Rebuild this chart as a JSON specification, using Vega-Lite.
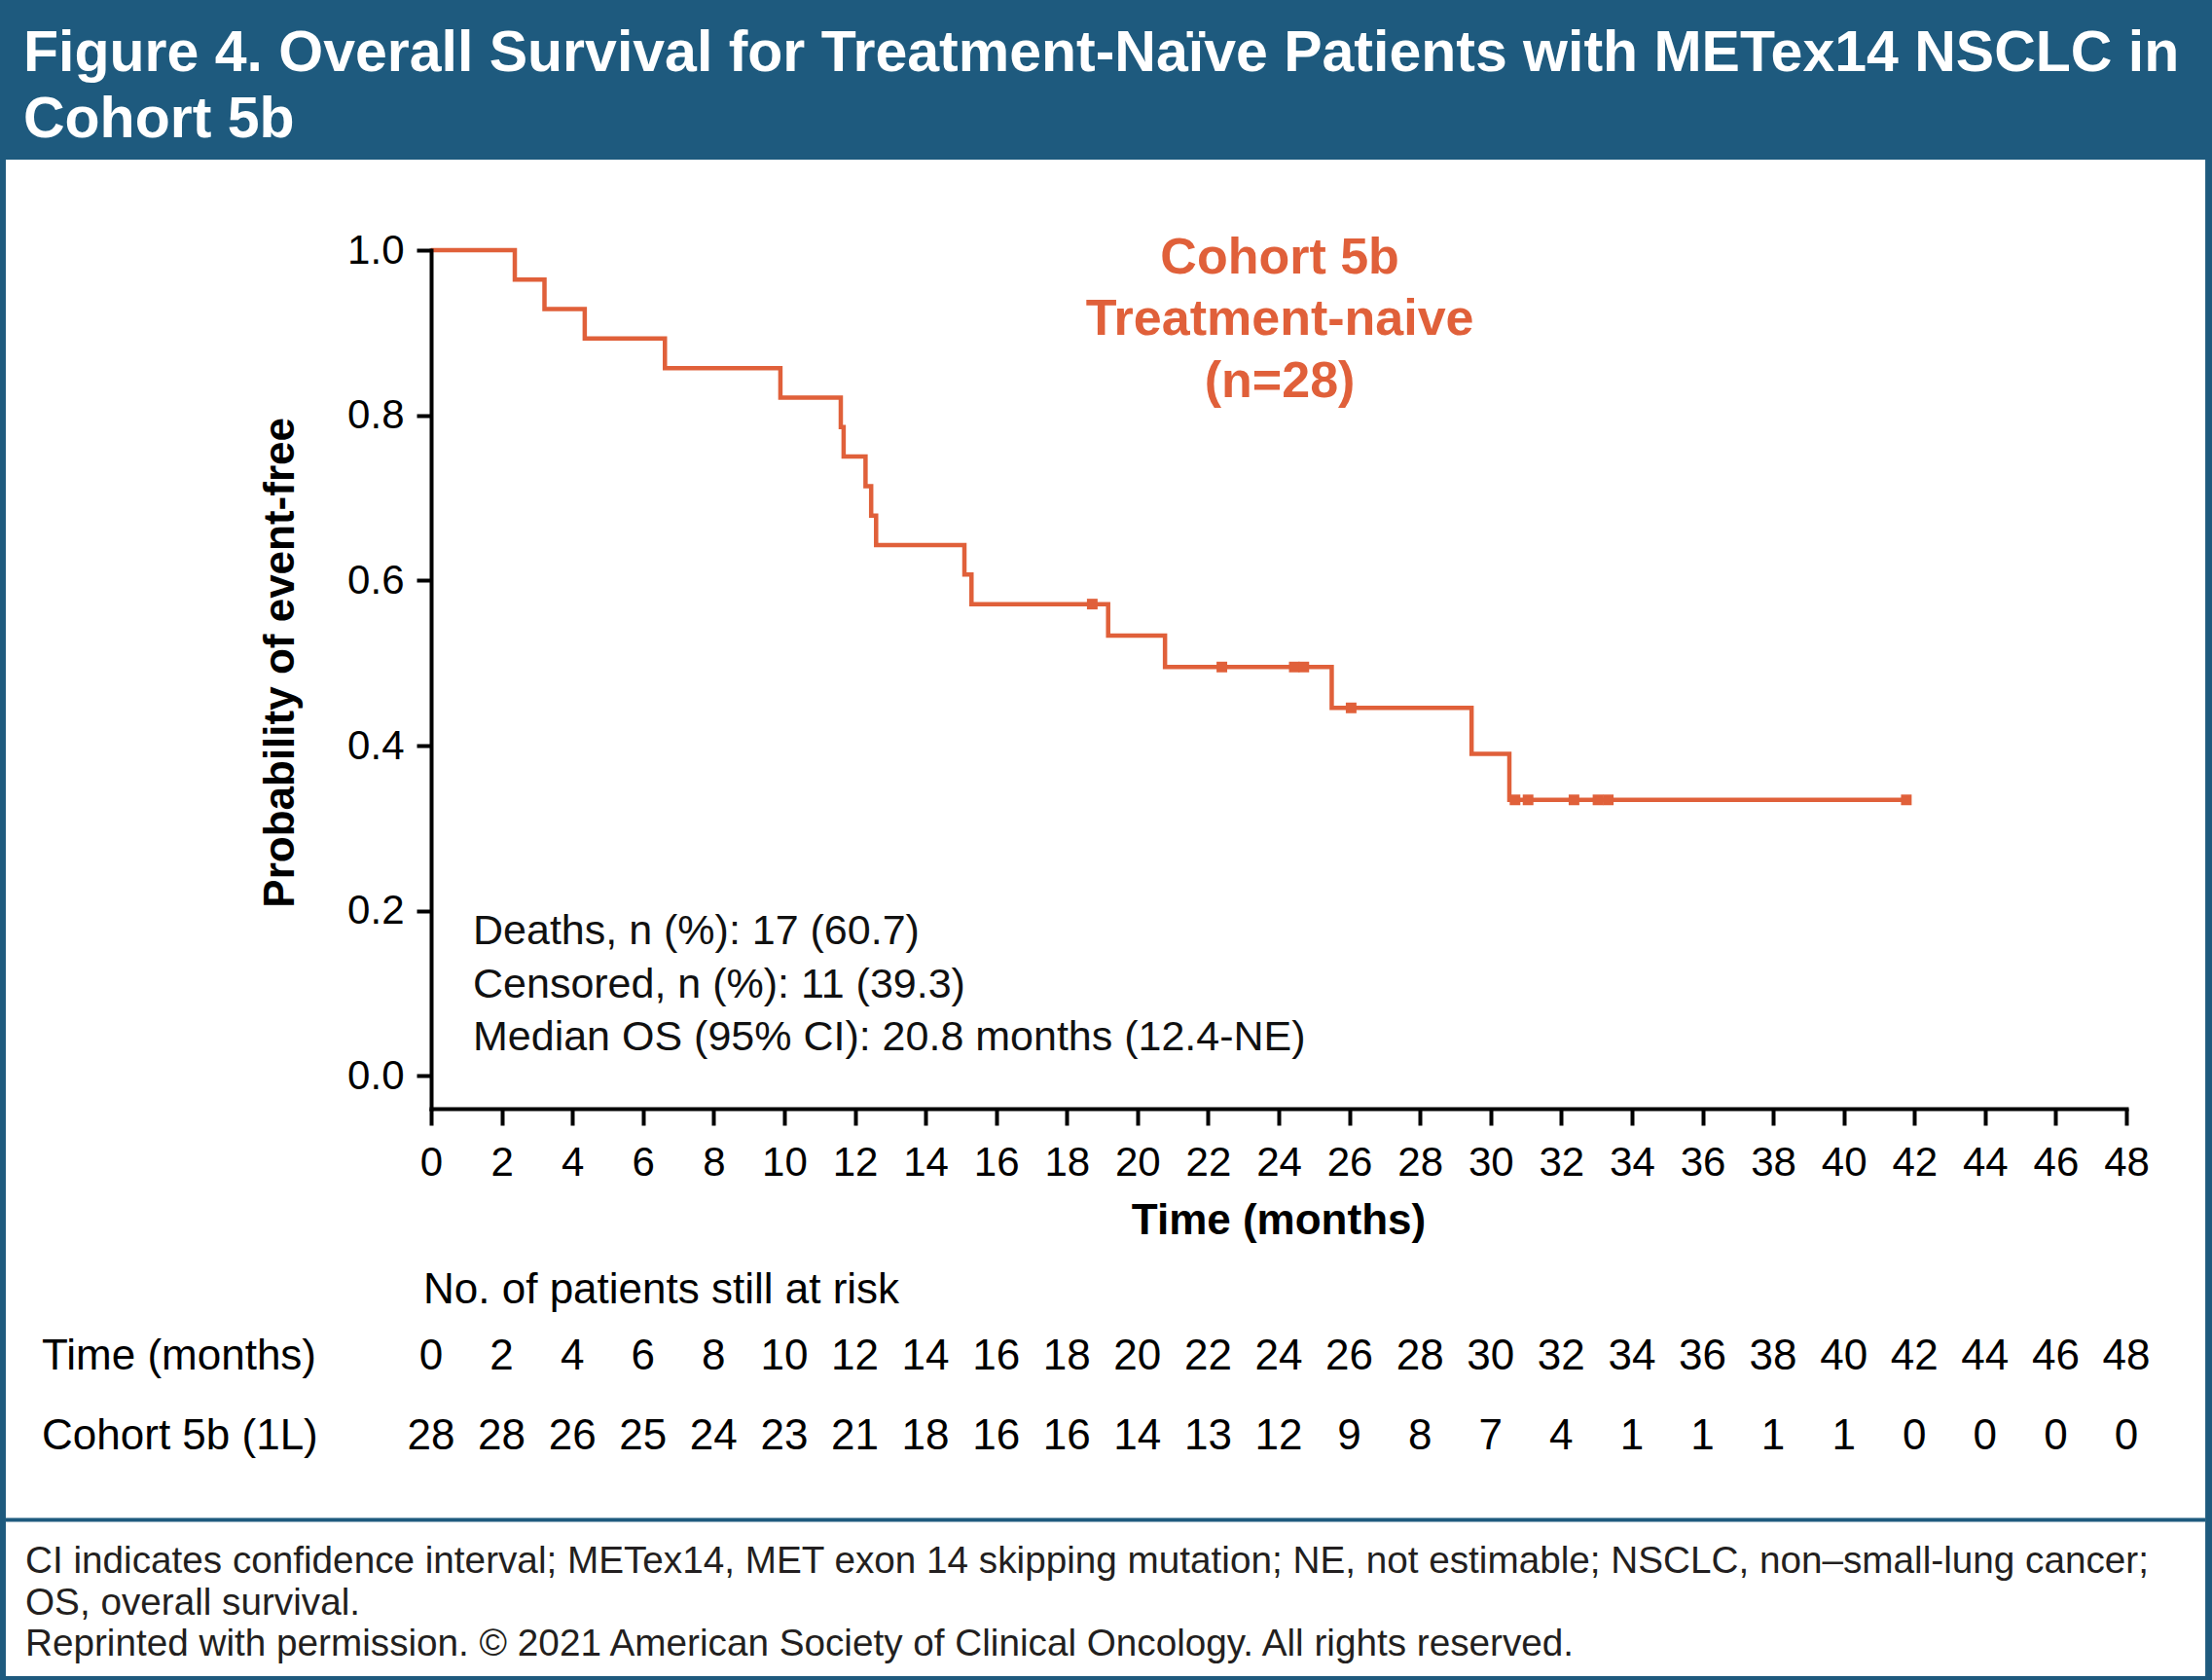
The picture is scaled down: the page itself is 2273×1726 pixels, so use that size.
{
  "$schema": "https://vega.github.io/schema/vega-lite/v6.json",
  "width": 1742,
  "height": 882,
  "autosize": {"type": "none"},
  "padding": {"left": 443, "top": 257, "right": 88, "bottom": 587},
  "background": "#1E5A7E",
  "view": {"stroke": null},
  "resolve": {"axis": {"x": "independent", "y": "independent"}},
  "title": {
    "text": ["Figure 4. Overall Survival for Treatment-Naïve Patients with METex14 NSCLC in", "Cohort 5b"],
    "anchor": "start",
    "frame": "bounds",
    "orient": "top",
    "dx": 20,
    "offset": 11,
    "font": "Liberation Sans",
    "fontSize": 59,
    "fontWeight": "bold",
    "color": "white",
    "lineHeight": 68
  },
  "datasets": {
    "km": [
      {"t": 0, "s": 1.0, "type": "start"},
      {"t": 2.37, "s": 0.9643, "type": "death"},
      {"t": 3.21, "s": 0.9286, "type": "death"},
      {"t": 4.35, "s": 0.8929, "type": "death"},
      {"t": 6.62, "s": 0.8571, "type": "death"},
      {"t": 9.89, "s": 0.8214, "type": "death"},
      {"t": 11.6, "s": 0.7857, "type": "death"},
      {"t": 11.68, "s": 0.75, "type": "death"},
      {"t": 12.3, "s": 0.7143, "type": "death"},
      {"t": 12.46, "s": 0.6786, "type": "death"},
      {"t": 12.6, "s": 0.6429, "type": "death"},
      {"t": 15.1, "s": 0.6071, "type": "death"},
      {"t": 15.3, "s": 0.5714, "type": "death"},
      {"t": 18.72, "s": 0.5714, "type": "censor"},
      {"t": 19.17, "s": 0.5333, "type": "death"},
      {"t": 20.78, "s": 0.4952, "type": "death"},
      {"t": 22.39, "s": 0.4952, "type": "censor"},
      {"t": 24.44, "s": 0.4952, "type": "censor"},
      {"t": 24.71, "s": 0.4952, "type": "censor"},
      {"t": 25.5, "s": 0.4457, "type": "death"},
      {"t": 26.05, "s": 0.4457, "type": "censor"},
      {"t": 29.46, "s": 0.39, "type": "death"},
      {"t": 30.53, "s": 0.3343, "type": "death"},
      {"t": 30.69, "s": 0.3343, "type": "censor"},
      {"t": 31.06, "s": 0.3343, "type": "censor"},
      {"t": 32.36, "s": 0.3343, "type": "censor"},
      {"t": 33.04, "s": 0.3343, "type": "censor"},
      {"t": 33.33, "s": 0.3343, "type": "censor"},
      {"t": 41.77, "s": 0.3343, "type": "censor"}
    ],
    "risk": [
      {"t": 0, "n": 28}, {"t": 2, "n": 28}, {"t": 4, "n": 26}, {"t": 6, "n": 25},
      {"t": 8, "n": 24}, {"t": 10, "n": 23}, {"t": 12, "n": 21}, {"t": 14, "n": 18},
      {"t": 16, "n": 16}, {"t": 18, "n": 16}, {"t": 20, "n": 14}, {"t": 22, "n": 13},
      {"t": 24, "n": 12}, {"t": 26, "n": 9}, {"t": 28, "n": 8}, {"t": 30, "n": 7},
      {"t": 32, "n": 4}, {"t": 34, "n": 1}, {"t": 36, "n": 1}, {"t": 38, "n": 1},
      {"t": 40, "n": 1}, {"t": 42, "n": 0}, {"t": 44, "n": 0}, {"t": 46, "n": 0},
      {"t": 48, "n": 0}
    ],
    "one": [{}]
  },
  "layer": [
    {
      "data": {"name": "one"},
      "mark": {"type": "rect", "color": "white"},
      "encoding": {
        "x": {"datum": -12.042, "type": "quantitative", "scale": {"domain": [0, 48], "nice": false, "zero": false}, "axis": null},
        "x2": {"datum": 50.234},
        "y": {"datum": 1.1096, "type": "quantitative", "scale": {"domain": [-0.0396, 1.0], "nice": false, "zero": false}, "axis": null},
        "y2": {"datum": -0.7268}
      }
    },
    {
      "data": {"name": "km"},
      "mark": {"type": "line", "interpolate": "step-after", "color": "#E0603A", "strokeWidth": 4.5},
      "encoding": {
        "x": {
          "field": "t", "type": "quantitative",
          "scale": {"domain": [0, 48], "nice": false, "zero": false},
          "axis": {
            "orient": "bottom", "zindex": 1,
            "values": [0, 2, 4, 6, 8, 10, 12, 14, 16, 18, 20, 22, 24, 26, 28, 30, 32, 34, 36, 38, 40, 42, 44, 46, 48],
            "format": "d", "domain": true, "domainColor": "black", "domainWidth": 4, "domainCap": "square", "grid": false,
            "tickSize": 17, "tickWidth": 4, "tickColor": "black",
            "labelFont": "Liberation Sans", "labelFontSize": 42, "labelColor": "black",
            "labelPadding": 18, "labelFlush": false, "labelOverlap": false,
            "title": null
          }
        },
        "y": {
          "field": "s", "type": "quantitative",
          "scale": {"domain": [-0.0396, 1.0], "nice": false, "zero": false},
          "axis": {
            "orient": "left", "zindex": 1,
            "values": [0, 0.2, 0.4, 0.6, 0.8, 1.0],
            "format": ".1f", "domain": true, "domainColor": "black", "domainWidth": 4, "domainCap": "square", "grid": false,
            "tickSize": 15, "tickWidth": 4, "tickColor": "black",
            "labelFont": "Liberation Sans", "labelFontSize": 42, "labelColor": "black",
            "labelPadding": 13, "labelOverlap": false, "labelFlush": false,
            "title": null
          }
        }
      }
    },
    {
      "data": {"name": "km"},
      "transform": [{"filter": "datum.type === 'censor'"}],
      "mark": {"type": "square", "filled": true, "color": "#E0603A", "size": 120, "opacity": 1},
      "encoding": {
        "x": {"field": "t", "type": "quantitative", "scale": {"domain": [0, 48], "nice": false, "zero": false}, "axis": null},
        "y": {"field": "s", "type": "quantitative", "scale": {"domain": [-0.0396, 1.0], "nice": false, "zero": false}, "axis": null}
      }
    },
    {
      "data": {"name": "one"},
      "mark": {"type": "rule", "color": "#1E5A7E", "strokeWidth": 4},
      "encoding": {
        "x": {"datum": -12.042, "type": "quantitative", "scale": {"domain": [0, 48], "nice": false, "zero": false}, "axis": null},
        "x2": {"datum": 50.234},
        "y": {"datum": -0.53765, "type": "quantitative", "scale": {"domain": [-0.0396, 1.0], "nice": false, "zero": false}, "axis": null}
      }
    },
    {
      "data": {"name": "one"},
      "mark": {"type": "text", "text": ["Cohort 5b", "Treatment-naive", "(n=28)"], "font": "Liberation Sans", "fontSize": 52, "fontWeight": "bold", "color": "#E0603A", "align": "center", "baseline": "top", "lineHeight": 63.5},
      "encoding": {
        "x": {"datum": 24.03, "type": "quantitative", "scale": {"domain": [0, 48], "nice": false, "zero": false}, "axis": null},
        "y": {"datum": 1.0205, "type": "quantitative", "scale": {"domain": [-0.0396, 1.0], "nice": false, "zero": false}, "axis": null}
      }
    },
    {
      "data": {"name": "one"},
      "mark": {"type": "text", "text": ["Deaths, n (%): 17 (60.7)", "Censored, n (%): 11 (39.3)", "Median OS (95% CI): 20.8 months (12.4-NE)"], "font": "Liberation Sans", "fontSize": 43, "color": "#111111", "align": "left", "baseline": "top", "lineHeight": 54.5},
      "encoding": {
        "x": {"datum": 1.185, "type": "quantitative", "scale": {"domain": [0, 48], "nice": false, "zero": false}, "axis": null},
        "y": {"datum": 0.1994, "type": "quantitative", "scale": {"domain": [-0.0396, 1.0], "nice": false, "zero": false}, "axis": null}
      }
    },
    {
      "data": {"name": "one"},
      "mark": {"type": "text", "text": "Probability of event-free", "font": "Liberation Sans", "fontSize": 44, "fontWeight": "bold", "color": "black", "align": "center", "baseline": "middle", "angle": 270},
      "encoding": {
        "x": {"datum": -4.257, "type": "quantitative", "scale": {"domain": [0, 48], "nice": false, "zero": false}, "axis": null},
        "y": {"datum": 0.5004, "type": "quantitative", "scale": {"domain": [-0.0396, 1.0], "nice": false, "zero": false}, "axis": null}
      }
    },
    {
      "data": {"name": "one"},
      "mark": {"type": "text", "text": "Time (months)", "font": "Liberation Sans", "fontSize": 44, "fontWeight": "bold", "color": "black", "align": "center", "baseline": "middle"},
      "encoding": {
        "x": {"datum": 24, "type": "quantitative", "scale": {"domain": [0, 48], "nice": false, "zero": false}, "axis": null},
        "y": {"datum": -0.1764, "type": "quantitative", "scale": {"domain": [-0.0396, 1.0], "nice": false, "zero": false}, "axis": null}
      }
    },
    {
      "data": {"name": "one"},
      "mark": {"type": "text", "text": "No. of patients still at risk", "font": "Liberation Sans", "fontSize": 44, "color": "black", "align": "left", "baseline": "middle"},
      "encoding": {
        "x": {"datum": -0.22, "type": "quantitative", "scale": {"domain": [0, 48], "nice": false, "zero": false}, "axis": null},
        "y": {"datum": -0.2596, "type": "quantitative", "scale": {"domain": [-0.0396, 1.0], "nice": false, "zero": false}, "axis": null}
      }
    },
    {
      "data": {"name": "one"},
      "mark": {"type": "text", "text": "Time (months)", "font": "Liberation Sans", "fontSize": 44, "color": "black", "align": "left", "baseline": "middle"},
      "encoding": {
        "x": {"datum": -11.02, "type": "quantitative", "scale": {"domain": [0, 48], "nice": false, "zero": false}, "axis": null},
        "y": {"datum": -0.3397, "type": "quantitative", "scale": {"domain": [-0.0396, 1.0], "nice": false, "zero": false}, "axis": null}
      }
    },
    {
      "data": {"name": "one"},
      "mark": {"type": "text", "text": "Cohort 5b (1L)", "font": "Liberation Sans", "fontSize": 44, "color": "black", "align": "left", "baseline": "middle"},
      "encoding": {
        "x": {"datum": -11.02, "type": "quantitative", "scale": {"domain": [0, 48], "nice": false, "zero": false}, "axis": null},
        "y": {"datum": -0.4363, "type": "quantitative", "scale": {"domain": [-0.0396, 1.0], "nice": false, "zero": false}, "axis": null}
      }
    },
    {
      "data": {"name": "risk"},
      "mark": {"type": "text", "font": "Liberation Sans", "fontSize": 44, "color": "black", "align": "center", "baseline": "middle"},
      "encoding": {
        "x": {"field": "t", "type": "quantitative", "scale": {"domain": [0, 48], "nice": false, "zero": false}, "axis": null},
        "y": {"datum": -0.3397, "type": "quantitative", "scale": {"domain": [-0.0396, 1.0], "nice": false, "zero": false}, "axis": null},
        "text": {"field": "t", "type": "quantitative", "format": "d"}
      }
    },
    {
      "data": {"name": "risk"},
      "mark": {"type": "text", "font": "Liberation Sans", "fontSize": 44, "color": "black", "align": "center", "baseline": "middle"},
      "encoding": {
        "x": {"field": "t", "type": "quantitative", "scale": {"domain": [0, 48], "nice": false, "zero": false}, "axis": null},
        "y": {"datum": -0.4363, "type": "quantitative", "scale": {"domain": [-0.0396, 1.0], "nice": false, "zero": false}, "axis": null},
        "text": {"field": "n", "type": "quantitative", "format": "d"}
      }
    },
    {
      "data": {"name": "one"},
      "mark": {"type": "text", "text": ["CI indicates confidence interval; METex14, MET exon 14 skipping mutation; NE, not estimable; NSCLC, non–small-lung cancer;", "OS, overall survival.", "Reprinted with permission. © 2021 American Society of Clinical Oncology. All rights reserved."], "font": "Liberation Sans", "fontSize": 38.7, "color": "#231F20", "align": "left", "baseline": "top", "lineHeight": 42.5},
      "encoding": {
        "x": {"datum": -11.49, "type": "quantitative", "scale": {"domain": [0, 48], "nice": false, "zero": false}, "axis": null},
        "y": {"datum": -0.5656, "type": "quantitative", "scale": {"domain": [-0.0396, 1.0], "nice": false, "zero": false}, "axis": null}
      }
    }
  ]
}
